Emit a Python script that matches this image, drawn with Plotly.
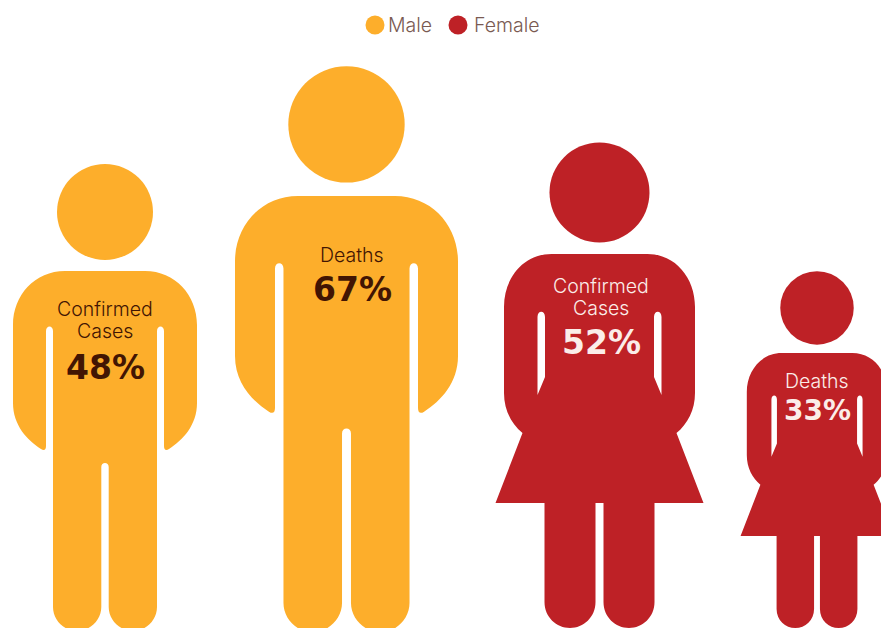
import plotly.graph_objects as go

# Data
genders = ["Male", "Female"]
gender_colors = ["#FDAE2B", "#BE2126"]
label_colors = ["#421503", "#FBEDE9"]
people_gender = [0, 0, 1, 1]
people_metric = [["Confirmed", "Cases"], ["Deaths"], ["Confirmed", "Cases"], ["Deaths"]]
people_value = [48, 67, 52, 33]

# Layout of the pictogram row
WIDTH, HEIGHT = 881, 628
centers = [105, 346.5, 599.5, 817]
foot_y = [630, 631, 628, 628]
title_y = [[309, 331], [255], [286, 308], [381]]
title_x = [105, 352, 601, 817]
value_y = [367, 289, 342, 410]
value_size = [33, 33, 33, 28]
title_size = 19.5

# Figure size follows the value: one linear scale per gender
scale_domain = {0: ((48, 1.0), (67, 1.212)), 1: ((33, 0.735), (52, 1.0))}


def figure_scale(g, v):
    (v0, s0), (v1, s1) = scale_domain[g]
    return s0 + (s1 - s0) * (v - v0) / (v1 - v0)


# Glyph templates: right half of the outline, centred on x = 0, y downward
MALE = dict(
    foot=630, head=(212, 48),
    start=(0, 271),
    half=[
        [(40, 271)],
        [(70, 271), (92, 295), (92, 325)],
        [(92, 403)],
        [(92, 425), (78, 440), (64, 449)],
        [(61, 451), (59, 450), (59, 446)],
        [(59, 331)],
        [(59, 325), (52, 325), (52, 331)],
        [(52, 607)],
        [(52, 620), (41, 631), (28, 631)],
        [(15, 631), (3.7, 620), (3.7, 607)],
        [(3.7, 467)],
        [(3.7, 464.5), (2, 463), (0, 463)],
    ],
    holes=[],
)
FEMALE = dict(
    foot=628, head=(192.5, 50),
    start=(0, 254),
    half=[
        [(48, 254)],
        [(76, 254), (95.5, 278), (95.5, 307)],
        [(95.5, 393)],
        [(95.5, 410), (88, 424), (77, 433)],
        [(104, 503)],
        [(55, 503)],
        [(55, 602)],
        [(55, 617), (43, 628), (29.5, 628)],
        [(16, 628), (4, 617), (4, 602)],
        [(4, 503)],
        [(0, 503)],
    ],
    holes=[
        [(54.5, 317), [(54.5, 310), (62, 310), (62, 317)], [(62, 395)], [(54.5, 377)]],
    ],
)
TEMPLATES = [MALE, FEMALE]


def full_outline(t):
    """Mirror the right half so the whole body is one closed outline."""
    segs = [list(s) for s in t["half"]]
    pts = [t["start"]] + [s[-1] for s in segs]
    mirrored = []
    for i in range(len(segs) - 1, -1, -1):
        seg = segs[i]
        prev = pts[i]
        if len(seg) == 1:
            mirrored.append([(-prev[0], prev[1])])
        else:
            mirrored.append([(-seg[1][0], seg[1][1]), (-seg[0][0], seg[0][1]), (-prev[0], prev[1])])
    return t["start"], segs + mirrored


def path_string(start, segs, place):
    parts = ["M%.2f,%.2f" % place(start)]
    for seg in segs:
        coords = " ".join("%.2f,%.2f" % place(p) for p in seg)
        parts.append(("L" if len(seg) == 1 else "C") + coords)
    parts.append("Z")
    return "".join(parts)


fig = go.Figure()
shapes, annotations = [], []

for i, value in enumerate(people_value):
    g = people_gender[i]
    t = TEMPLATES[g]
    s = figure_scale(g, value)
    cx, fy = centers[i], foot_y[i]

    def place(p, cx=cx, fy=fy, s=s, foot=t["foot"]):
        return cx + p[0] * s, fy - (foot - p[1]) * s

    start, segs = full_outline(t)
    d = path_string(start, segs, place)
    for hole in t["holes"]:
        hstart, hsegs = hole[0], hole[1:]
        d += path_string(hstart, hsegs, place)
        d += path_string((-hstart[0], hstart[1]),
                         [[(-p[0], p[1]) for p in seg] for seg in hsegs], place)
    shapes.append(dict(type="path", path=d, xref="x", yref="y",
                       fillcolor=gender_colors[g], line=dict(width=0), layer="below"))

    hy, hr = t["head"]
    hcx, hcy = place((0, hy))
    shapes.append(dict(type="circle", xref="x", yref="y",
                       x0=hcx - hr * s, x1=hcx + hr * s, y0=hcy - hr * s, y1=hcy + hr * s,
                       fillcolor=gender_colors[g], line=dict(width=0), layer="below"))

    for line, ly in zip(people_metric[i], title_y[i]):
        annotations.append(dict(x=title_x[i], y=ly, xref="x", yref="y", text=line, showarrow=False,
                                font=dict(family="Inter", size=title_size, weight=300,
                                          color=label_colors[g])))
    annotations.append(dict(x=title_x[i], y=value_y[i], xref="x", yref="y", text=f"{value}%", showarrow=False,
                            font=dict(family="DejaVu Sans", size=value_size[i], weight=700,
                                      color=label_colors[g])))

# Colour key above the row
key_x = [375, 458]
key_text_x = [388, 474]
key_y = 25
for k, name in enumerate(genders):
    fig.add_trace(go.Scatter(
        x=[key_x[k]], y=[key_y], mode="markers", name=name,
        showlegend=False, hoverinfo="name",
        marker=dict(size=19, color=gender_colors[k], line=dict(width=0)),
        cliponaxis=False,
    ))
    annotations.append(dict(x=key_text_x[k], y=key_y, xref="x", yref="y", text=name, showarrow=False,
                            xanchor="left", xshift=-2,
                            font=dict(family="Inter", size=19.5, weight=300, color="#7A5A52")))

fig.update_layout(
    width=WIDTH, height=HEIGHT, autosize=False,
    margin=dict(l=0, r=0, t=0, b=0),
    paper_bgcolor="white", plot_bgcolor="white",
    xaxis=dict(range=[0, WIDTH], visible=False, fixedrange=True),
    yaxis=dict(range=[HEIGHT, 0], visible=False, fixedrange=True),
    shapes=shapes, annotations=annotations, showlegend=False,
)

fig.write_html("out.html", config=dict(displayModeBar=False))
